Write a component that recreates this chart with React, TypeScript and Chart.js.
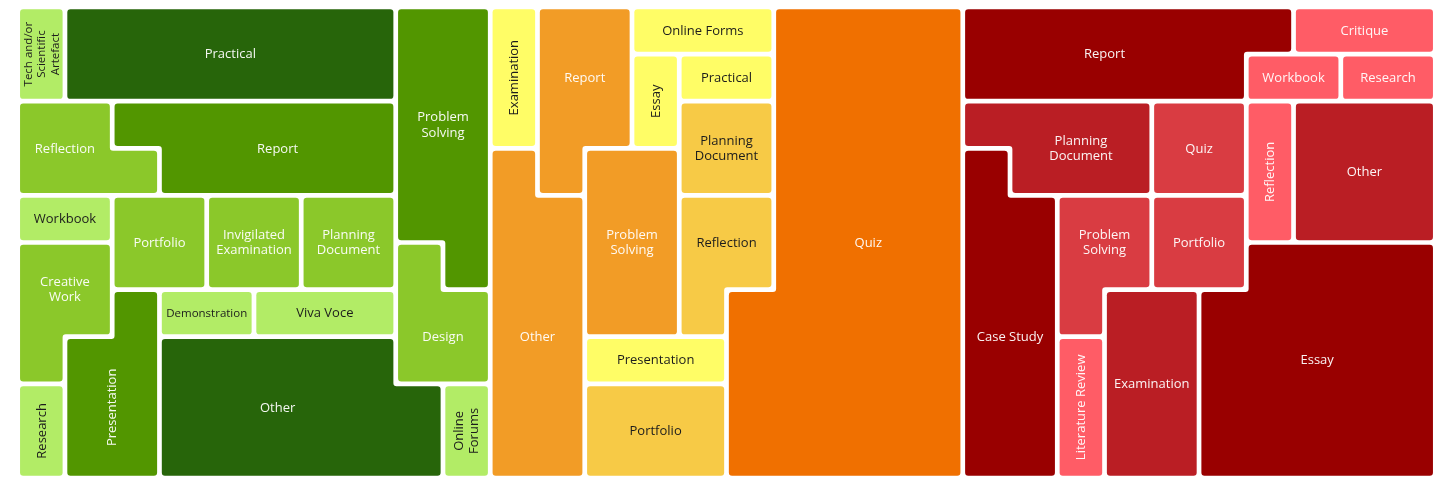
import React, { useEffect, useRef } from "react";
import { Chart, registerables } from "chart.js";

Chart.register(...registerables);

// ---------- Green group ----------
const greenCategories = [
  "Tech and/or Scientific Artefact", "Practical", "Problem Solving", "Reflection", "Report",
  "Workbook", "Portfolio", "Invigilated Examination", "Planning Document", "Creative Work",
  "Design", "Presentation", "Demonstration", "Viva Voce", "Research", "Other", "Online Forums",
];
const greenValues = [2, 14, 11, 5, 11, 2, 4, 4, 4, 5, 5, 7, 2, 3, 2, 17, 2];
const greenShades = [0, 3, 2, 1, 2, 0, 1, 1, 1, 1, 1, 2, 0, 0, 0, 3, 0];
const greenLayout = [
  "ABBBBBBBCC",
  "ABBBBBBBCC",
  "DDEEEEEECC",
  "DDDEEEEECC",
  "FFGGHHIICC",
  "JJGGHHIIKC",
  "JJLMMNNNKK",
  "JLLPPPPPKK",
  "OLLPPPPPPQ",
  "OLLPPPPPPQ",
];
const greenPalette = ["#B2EC66", "#8BC82A", "#529600", "#27650A"];

// ---------- Orange group ----------
const orangeCategories = [
  "Examination", "Report", "Online Forms", "Quiz", "Essay", "Practical",
  "Planning Document", "Other", "Problem Solving", "Reflection", "Presentation", "Portfolio",
];
const orangeValues = [3, 7, 3, 44, 2, 2, 4, 13, 8, 5, 3, 6];
const orangeShades = [0, 2, 0, 3, 0, 0, 1, 2, 2, 1, 0, 1];
const orangeLayout = [
  "ABBCCCDDDD",
  "ABBEFFDDDD",
  "ABBEGGDDDD",
  "HBIIGGDDDD",
  "HHIIJJDDDD",
  "HHIIJJDDDD",
  "HHIIJDDDDD",
  "HHKKKDDDDD",
  "HHLLLDDDDD",
  "HHLLLDDDDD",
];
const orangePalette = ["#FFFD66", "#F7CA46", "#F29C26", "#F07000"];

// ---------- Red group ----------
const redCategories = [
  "Report", "Critique", "Workbook", "Research", "Planning Document", "Quiz", "Reflection",
  "Other", "Case Study", "Problem Solving", "Portfolio", "Essay", "Examination", "Literature Review",
];
const redValues = [13, 3, 2, 2, 7, 4, 3, 9, 13, 5, 4, 24, 8, 3];
const redShades = [3, 0, 0, 0, 2, 1, 0, 2, 3, 1, 1, 3, 2, 0];
const redLayout = [
  "AAAAAAABBB",
  "AAAAAACCDD",
  "EEEEFFGHHH",
  "IEEEFFGHHH",
  "IIJJKKGHHH",
  "IIJJKKLLLL",
  "IIJMMLLLLL",
  "IINMMLLLLL",
  "IINMMLLLLL",
  "IINMMLLLLL",
];
const redPalette = ["#FF5C66", "#D93C42", "#BA1E24", "#990000"];

const groups = [
  { categories: greenCategories, values: greenValues, shades: greenShades, layout: greenLayout, palette: greenPalette },
  { categories: orangeCategories, values: orangeValues, shades: orangeShades, layout: orangeLayout, palette: orangePalette },
  { categories: redCategories, values: redValues, shades: redShades, layout: redLayout, palette: redPalette },
];

const TOTAL_COLS = groups.reduce((s, g) => s + g.layout[0].length, 0);
const TOTAL_ROWS = Math.max(...groups.map((g) => g.layout.length));

const GAP = 2.35;
const RADIUS = 3.2;
const FONT_FAMILY = '"Open Sans", "Noto Sans", sans-serif';

function brightness(hex: string) {
  const n = parseInt(hex.slice(1), 16);
  const r = (n >> 16) & 255, g = (n >> 8) & 255, b = n & 255;
  return (0.299 * r + 0.587 * g + 0.114 * b) / 255;
}

function wrapWords(ctx: CanvasRenderingContext2D, words: string[], maxW: number) {
  const lines: string[] = [];
  let cur = "";
  for (const w of words) {
    const test = cur ? cur + " " + w : w;
    if (!cur || ctx.measureText(test).width <= maxW) cur = test;
    else {
      lines.push(cur);
      cur = w;
    }
  }
  if (cur) lines.push(cur);
  return lines;
}

function fitLabel(ctx: CanvasRenderingContext2D, text: string, w: number, h: number) {
  const words = text.split(" ");
  ctx.font = `13px ${FONT_FAMILY}`;
  const maxWord = Math.max(...words.map((t) => ctx.measureText(t).width));
  const rotate = h > w && maxWord > w - 14;
  const along = rotate ? h : w;
  const across = rotate ? w : h;
  for (let size = 13; size >= 7; size -= 0.5) {
    ctx.font = `${size}px ${FONT_FAMILY}`;
    const maxLine = Math.min(along - 6, 115 * (size / 13));
    const lines = wrapWords(ctx, words, maxLine);
    const widest = Math.max(...lines.map((l) => ctx.measureText(l).width));
    const lineH = size * 1.17;
    if (widest <= along - 6 && lines.length * lineH <= across - 2) {
      return { size, lines, rotate, lineH };
    }
  }
  return { size: 7, lines: [text], rotate, lineH: 8 };
}

const mosaicPlugin = {
  id: "mosaic",
  afterDatasetsDraw(chart: any) {
    const ctx: CanvasRenderingContext2D = chart.ctx;
    const xs = chart.scales.x;
    const ys = chart.scales.y;
    const px = (v: number) => xs.getPixelForValue(v);
    const py = (v: number) => ys.getPixelForValue(v);
    let colOffset = 0;

    groups.forEach((grp) => {
      const layout = grp.layout;
      const rows = layout.length;
      const cols = layout[0].length;
      grp.categories.forEach((name, ci) => {
        const code = String.fromCharCode(65 + ci);
        const has = (r: number, c: number) =>
          r >= 0 && r < rows && c >= 0 && c < cols && layout[r][c] === code;
        const cells: [number, number][] = [];
        for (let r = 0; r < rows; r++) for (let c = 0; c < cols; c++) if (has(r, c)) cells.push([r, c]);
        if (!cells.length) return;
        if (cells.length !== grp.values[ci]) console.warn("count mismatch", name);

        // boundary edges (clockwise on screen)
        const edges: number[][] = [];
        for (const [r, c] of cells) {
          if (!has(r - 1, c)) edges.push([c, r, c + 1, r]);
          if (!has(r, c + 1)) edges.push([c + 1, r, c + 1, r + 1]);
          if (!has(r + 1, c)) edges.push([c + 1, r + 1, c, r + 1]);
          if (!has(r, c - 1)) edges.push([c, r + 1, c, r]);
        }
        const byStart = new Map<string, number[]>();
        edges.forEach((e, i) => {
          const k = e[0] + "," + e[1];
          if (!byStart.has(k)) byStart.set(k, []);
          byStart.get(k)!.push(i);
        });
        const used = new Set<number>();
        const loops: number[][][] = [];
        for (let i = 0; i < edges.length; i++) {
          if (used.has(i)) continue;
          const pts: number[][] = [];
          let cur = i;
          while (!used.has(cur)) {
            used.add(cur);
            const e = edges[cur];
            pts.push([e[0], e[1]]);
            const nx = (byStart.get(e[2] + "," + e[3]) || []).filter((j) => !used.has(j));
            if (!nx.length) break;
            cur = nx[0];
          }
          const simp = pts.filter((p, idx) => {
            const a = pts[(idx - 1 + pts.length) % pts.length];
            const b = pts[(idx + 1) % pts.length];
            const d1x = Math.sign(p[0] - a[0]), d1y = Math.sign(p[1] - a[1]);
            const d2x = Math.sign(b[0] - p[0]), d2y = Math.sign(b[1] - p[1]);
            return !(d1x === d2x && d1y === d2y);
          });
          loops.push(simp);
        }

        const color = grp.palette[grp.shades[ci]];
        ctx.save();
        ctx.fillStyle = color;
        ctx.beginPath();
        for (const loop of loops) {
          const P = loop.map(([x, y]) => [px(x + colOffset), py(y)]);
          const n = P.length;
          const Q = P.map((p, i) => {
            const a = P[(i - 1 + n) % n];
            const b = P[(i + 1) % n];
            const l1 = Math.hypot(p[0] - a[0], p[1] - a[1]) || 1;
            const l2 = Math.hypot(b[0] - p[0], b[1] - p[1]) || 1;
            const d1 = [(p[0] - a[0]) / l1, (p[1] - a[1]) / l1];
            const d2 = [(b[0] - p[0]) / l2, (b[1] - p[1]) / l2];
            const n1 = [-d1[1], d1[0]];
            const n2 = [-d2[1], d2[0]];
            return [p[0] + GAP * (n1[0] + n2[0]), p[1] + GAP * (n1[1] + n2[1])];
          });
          const last = Q[n - 1];
          ctx.moveTo((last[0] + Q[0][0]) / 2, (last[1] + Q[0][1]) / 2);
          for (let i = 0; i < n; i++) {
            const v = Q[i];
            const nxt = Q[(i + 1) % n];
            const prv = Q[(i - 1 + n) % n];
            const rr = Math.min(
              RADIUS,
              Math.hypot(nxt[0] - v[0], nxt[1] - v[1]) / 2,
              Math.hypot(v[0] - prv[0], v[1] - prv[1]) / 2
            );
            ctx.arcTo(v[0], v[1], nxt[0], nxt[1], rr);
          }
          ctx.closePath();
        }
        ctx.fill();

        // label: bounding box of all maximal rectangles
        let best = 0;
        let rects: number[][] = [];
        for (let r0 = 0; r0 < rows; r0++)
          for (let r1 = r0; r1 < rows; r1++)
            for (let c0 = 0; c0 < cols; c0++)
              for (let c1 = c0; c1 < cols; c1++) {
                let ok = true;
                for (let r = r0; r <= r1 && ok; r++)
                  for (let c = c0; c <= c1; c++)
                    if (!has(r, c)) { ok = false; break; }
                if (!ok) break;
                const area = (r1 - r0 + 1) * (c1 - c0 + 1);
                if (area > best) { best = area; rects = [[r0, r1, c0, c1]]; }
                else if (area === best) rects.push([r0, r1, c0, c1]);
              }
        const br0 = Math.min(...rects.map((q) => q[0]));
        const br1 = Math.max(...rects.map((q) => q[1])) + 1;
        const bc0 = Math.min(...rects.map((q) => q[2]));
        const bc1 = Math.max(...rects.map((q) => q[3])) + 1;
        const cx = (px(bc0 + colOffset) + px(bc1 + colOffset)) / 2;
        const cy = (py(br0) + py(br1)) / 2;
        const r = rects[0];
        const w = px(r[3] + 1 + colOffset) - px(r[2] + colOffset) - 2 * GAP;
        const h = py(r[1] + 1) - py(r[0]) - 2 * GAP;
        const lab = fitLabel(ctx, name, w, h);
        ctx.fillStyle = brightness(color) > 0.72 ? "#1c1c1c" : "rgba(255,255,255,0.95)";
        ctx.font = `${lab.size}px ${FONT_FAMILY}`;
        ctx.textAlign = "center";
        ctx.textBaseline = "middle";
        ctx.translate(cx, cy);
        if (lab.rotate) ctx.rotate(-Math.PI / 2);
        const total = lab.lines.length * lab.lineH;
        lab.lines.forEach((line, li) => {
          ctx.fillText(line, 0, -total / 2 + lab.lineH * (li + 0.5) + 0.5);
        });
        ctx.restore();
      });
      colOffset += cols;
    });
  },
};

export default function App() {
  const ref = useRef<HTMLCanvasElement>(null);
  useEffect(() => {
    if (!ref.current) return;
    const chart = new Chart(ref.current, {
      type: "scatter",
      data: { datasets: [{ data: [] as any[] }] },
      options: {
        animation: false,
        responsive: false,
        devicePixelRatio: 1,
        layout: { padding: { left: 17.7, right: 20.7, top: 7, bottom: 18 } },
        plugins: { legend: { display: false }, tooltip: { enabled: false }, title: { display: false } },
        scales: {
          x: { type: "linear", min: 0, max: TOTAL_COLS, display: false },
          y: { type: "linear", min: 0, max: TOTAL_ROWS, reverse: true, display: false },
        },
      } as any,
      plugins: [mosaicPlugin as any],
    });
    return () => chart.destroy();
  }, []);
  return (
    <div style={{ position: "absolute", left: 0, top: 0, width: 1456, height: 496, background: "#fff" }}>
      <canvas ref={ref} width={1456} height={496} style={{ display: "block", width: 1456, height: 496 }} />
    </div>
  );
}
